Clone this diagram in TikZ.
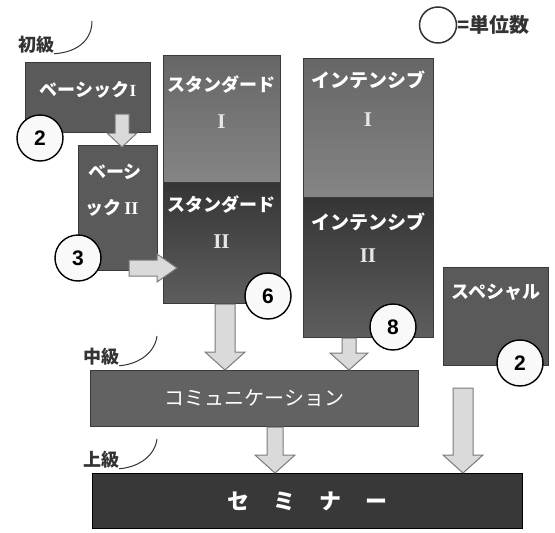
\documentclass[tikz,border=0pt]{standalone}
\usepackage{fontspec}
\setmainfont{Noto Sans CJK JP}
\newfontfamily\romanf{Liberation Serif}
\newfontfamily\numf{Liberation Sans}
\usetikzlibrary{calc,shapes.geometric}
\definecolor{boxc}{HTML}{5A5A5A}
\definecolor{boxedge}{HTML}{3A3A3A}
\definecolor{uptop}{HTML}{666666}
\definecolor{upbot}{HTML}{858585}
\definecolor{lowtop}{HTML}{353535}
\definecolor{lowbot}{HTML}{5E5E5E}
\definecolor{semc}{HTML}{383838}
\definecolor{arrfill}{HTML}{DADADA}
\definecolor{arredge}{HTML}{7A7A7A}
\definecolor{labc}{HTML}{333333}
\definecolor{romc}{HTML}{E6E6E6}
\tikzset{
  box/.style={draw=boxedge, line width=1.2pt, fill=boxc, inner sep=0pt, anchor=north west},
  upbox/.style={box, top color=uptop, bottom color=upbot},
  lowbox/.style={box, top color=lowtop, bottom color=lowbot},
  semibox/.style={box, fill=semc, draw=black},
  wtext/.style={text=white, font=\fontsize{18pt}{20pt}\selectfont\bfseries, inner sep=0pt},
  rtext/.style={text=romc, font=\fontsize{21pt}{23pt}\selectfont\romanf\bfseries, inner sep=0pt},
  numc/.style={circle, draw=black, line width=1.4pt, fill=white!95!gray, minimum size=46pt, inner sep=0pt, font=\fontsize{21pt}{23pt}\selectfont\numf\bfseries},
  lvl/.style={text=labc, font=\fontsize{18pt}{20pt}\selectfont\bfseries, inner sep=0pt},
  lvlcurve/.style={draw=labc, line width=1pt},
  blockarrow/.style={fill=arrfill, draw=arredge, line width=1pt, line join=miter},
}
\newcommand{\blkdown}[5]{%
  \path[blockarrow] let \p1=(#1), \p2=(#2) in
    (\x1-#3,\y1) -- (\x1+#3,\y1) -- (\x1+#3,\y2+#5) -- (\x1+#4,\y2+#5) -- (\x1,\y2)
    -- (\x1-#4,\y2+#5) -- (\x1-#3,\y2+#5) -- cycle;}
\newcommand{\blkright}[5]{%
  \path[blockarrow] let \p1=(#1), \p2=(#2) in
    (\x1,\y1+#3) -- (\x2-#5,\y1+#3) -- (\x2-#5,\y1+#4) -- (\x2,\y1) -- (\x2-#5,\y1-#4)
    -- (\x2-#5,\y1-#3) -- (\x1,\y1-#3) -- cycle;}
\begin{document}
\begin{tikzpicture}[x=1pt,y=-1pt]
\useasboundingbox[fill=white] (0,0) rectangle (555,533);

% legend
\node[ellipse, draw=labc, line width=1.5pt, minimum width=37pt, minimum height=36pt, inner sep=0pt] (leg) at (438,25) {};
\node[lvl, anchor=west, font=\fontsize{20pt}{22pt}\selectfont\bfseries] (legt) at (leg.east) {=単位数};

% boxes
\node[box, minimum width=125pt, minimum height=70pt] (b1) at (25,62) {};
\node[box, minimum width=79pt, minimum height=125pt] (b2) at (78,145) {};
\node[upbox, minimum width=117pt, minimum height=127pt] (s1) at (163,55) {};
\node[lowbox, minimum width=117pt, minimum height=121pt] (s2) at (163,182) {};
\node[upbox, minimum width=130pt, minimum height=139pt] (i1) at (303,58) {};
\node[lowbox, minimum width=130pt, minimum height=140pt] (i2) at (303,197) {};
\node[box, minimum width=105pt, minimum height=98pt] (sp) at (443,267) {};
\node[box, minimum width=328pt, minimum height=56pt, fill=boxc!95!white] (comm) at (90,370) {};
\node[semibox, minimum width=430pt, minimum height=55pt] (sem) at (92,473) {};

% box texts
\node[wtext] (t1) at (88,90) {ベーシック{\romanf\fontsize{17pt}{18pt}\selectfont I}};
\node[wtext] (t2a) at (115,172) {ベーシ};
\node[wtext] (t2b) at (112,208) {ック\,{\romanf II}};
\node[wtext] (ts1) at (221.5,85) {スタンダード};
\node[rtext] (ts1r) at (221.5,122) {I};
\node[wtext] (ts2) at (221.5,205) {スタンダード};
\node[rtext] (ts2r) at (221.5,242) {II};
\node[wtext, font=\fontsize{19pt}{21pt}\selectfont\bfseries] (ti1) at (368,80) {インテンシブ};
\node[rtext] (ti1r) at (368,120) {I};
\node[wtext, font=\fontsize{19pt}{21pt}\selectfont\bfseries] (ti2) at (368,222) {インテンシブ};
\node[rtext] (ti2r) at (368,256) {II};
\node[wtext] (tsp) at (496,292) {スペシャル};
\node[wtext, font=\fontsize{20pt}{22pt}\selectfont] (tcomm) at (comm.center) {コミュニケーション};
\node[wtext, font=\fontsize{22pt}{24pt}\selectfont\bfseries] (tsem) at (sem.center) {セ\hspace{24pt}ミ\hspace{24pt}ナ\hspace{24pt}ー};

% level labels
\node[lvl] (l1) at (36,45) {初級};
\draw[lvlcurve] (l1.south east) .. controls (80,52) and (92,38) .. (92,21);
\node[lvl] (l2) at (101,357) {中級};
\draw[lvlcurve] (l2.south east) .. controls (140,364) and (155,352) .. (157,336);
\node[lvl] (l3) at (101,460) {上級};
\draw[lvlcurve] (l3.south east) .. controls (140,467) and (155,455) .. (157,439);

% arrows
\coordinate (ax1) at (122,0);
\coordinate (ay2) at (0,268);
\coordinate (ax3) at (225,0);
\coordinate (ax4) at (349,0);
\coordinate (ax5) at (275,0);
\coordinate (ax6) at (463,0);
\blkdown{$(ax1|-b1.south)+(0,-19)$}{$(ax1|-b2.north)+(0,2)$}{7pt}{15pt}{14pt}
\blkright{$(b2.east|-ay2)+(-29,0)$}{$(s2.west|-ay2)+(14,0)$}{8pt}{14pt}{20pt}
\blkdown{ax3|-s2.south}{ax3|-comm.north}{10pt}{20pt}{18pt}
\blkdown{ax4|-i2.south}{ax4|-comm.north}{7pt}{19pt}{17pt}
\blkdown{ax5|-comm.south}{ax5|-sem.north}{8pt}{20pt}{18pt}
\blkdown{$(ax6|-sp.south)+(0,22)$}{ax6|-sem.north}{10pt}{20pt}{18pt}

% credit circles
\node[numc] (c1) at (40,138) {2};
\node[numc] (c2) at (78,258) {3};
\node[numc] (c3) at (268,296) {6};
\node[numc] (c4) at (393,327) {8};
\node[numc] (c5) at (520,363) {2};
\end{tikzpicture}
\end{document}
